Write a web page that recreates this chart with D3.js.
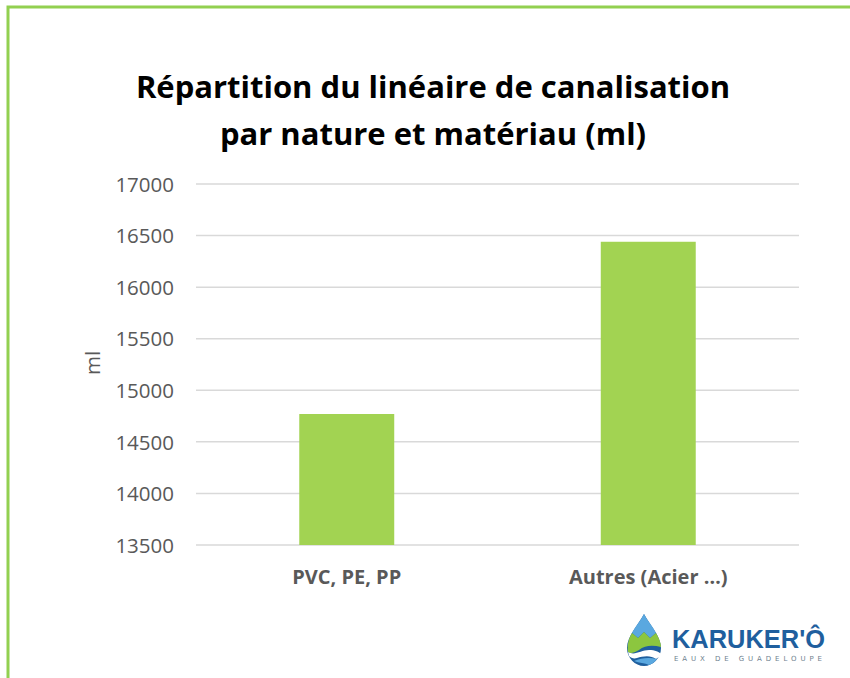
<!DOCTYPE html>
<html>
<head>
<meta charset="utf-8">
<script src="https://cdn.jsdelivr.net/npm/d3@7"></script>
<style>
  html, body { margin: 0; padding: 0; background: #fff; }
  svg { display: block; }
</style>
</head>
<body>
<svg id="chart" width="850" height="678"></svg>
<script>
const categories = ["PVC, PE, PP", "Autres (Acier …)"];
const values = [14770, 16440];
const yTicks = [13500, 14000, 14500, 15000, 15500, 16000, 16500, 17000];
const titleLines = ["Répartition du linéaire de canalisation", "par nature et matériau (ml)"];

const svg = d3.select("#chart");
const width = 850;
const height = 678;

const MARGIN = { top: 184, right: 51, bottom: 133, left: 196 };
const FONT = "'Open Sans', 'Liberation Sans', sans-serif";

// frame (green border running off the right/bottom edges)
svg.append("rect")
  .attr("x", 8).attr("y", 7)
  .attr("width", width + 20).attr("height", height + 20)
  .attr("fill", "none")
  .attr("stroke", "#92d050")
  .attr("stroke-width", 3);

// title
svg.append("g")
  .selectAll("text")
  .data(titleLines)
  .join("text")
  .attr("x", 433)
  .attr("y", (d, i) => 98 + i * 47)
  .attr("text-anchor", "middle")
  .attr("font-family", FONT)
  .attr("font-weight", 700)
  .attr("font-size", 31)
  .attr("fill", "#000")
  .text((d) => d);

const x = d3.scaleBand()
  .domain(categories)
  .range([MARGIN.left, width - MARGIN.right])
  .paddingInner(0.685)
  .paddingOuter(0.3425);

const y = d3.scaleLinear()
  .domain([13500, 17000])
  .range([height - MARGIN.bottom, MARGIN.top]);

// gridlines
svg.append("g")
  .selectAll("line")
  .data(yTicks)
  .join("line")
  .attr("x1", MARGIN.left)
  .attr("x2", width - MARGIN.right)
  .attr("y1", (d) => y(d))
  .attr("y2", (d) => y(d))
  .attr("stroke", "#d9d9d9")
  .attr("stroke-width", 1.5);

// y axis labels
const yAxis = svg.append("g")
  .attr("transform", `translate(${MARGIN.left - 22},0)`)
  .call(d3.axisLeft(y).tickValues(yTicks).tickSize(0).tickPadding(0).tickFormat(d3.format("d")));
yAxis.select(".domain").remove();
yAxis.selectAll("text")
  .attr("font-family", FONT)
  .attr("font-size", 20.5)
  .attr("fill", "#595959")
  .attr("dy", "0.35em");

// bars
svg.append("g")
  .selectAll("rect")
  .data(values)
  .join("rect")
  .attr("x", (d, i) => x(categories[i]))
  .attr("width", x.bandwidth())
  .attr("y", (d) => y(d))
  .attr("height", (d) => y(13500) - y(d))
  .attr("fill", "#a2d352");

// x labels
const xAxis = svg.append("g")
  .attr("transform", `translate(0,${height - MARGIN.bottom})`)
  .call(d3.axisBottom(x).tickSize(0).tickPadding(0));
xAxis.select(".domain").remove();
xAxis.selectAll("text")
  .attr("font-family", FONT)
  .attr("font-weight", 700)
  .attr("font-size", 20)
  .attr("fill", "#595959")
  .attr("dy", null)
  .attr("y", 39);

// axis title
svg.append("text")
  .attr("transform", "translate(100,363) rotate(-90)")
  .attr("text-anchor", "middle")
  .attr("font-family", FONT)
  .attr("font-size", 20.5)
  .attr("fill", "#595959")
  .text("ml");

// logo
const logo = svg.append("g").attr("transform", "translate(627,612)");
logo.append("path")
  .attr("d", "M17,2 C22,12 34,24 34,36 C34,46 26,54 17,54 C8,54 0,46 0,36 C0,24 12,12 17,2 Z")
  .attr("fill", "#1f5f9e");
logo.append("path")
  .attr("d", "M17,2 C20,8 26,15 29,21 L23,26 L17,20 L11,26 L5,21 C8,15 14,8 17,2 Z")
  .attr("fill", "#5aa8e0");
logo.append("path")
  .attr("d", "M5,21 L11,26 L17,20 L23,26 L29,21 C32,26 34,31 34,35 C26,33 18,33 12,38 C7,41 3,42 1,40 C0,32 2,26 5,21 Z")
  .attr("fill", "#8cc63f");
logo.append("path")
  .attr("d", "M1,40 C8,44 14,38 22,38 C28,38 32,40 34,42 C33,44 31,46 29,47 C24,43 16,44 10,46 C7,47 4,46 2,44 Z")
  .attr("fill", "#ffffff");
logo.append("path")
  .attr("d", "M7,49 C14,46 22,45 30,47 C28,50 25,52 22,53 C18,51 12,51 7,49 Z")
  .attr("fill", "#5aa8e0");

logo.append("text")
  .attr("x", 45).attr("y", 36)
  .attr("font-family", "'Liberation Sans', Arial, sans-serif")
  .attr("font-weight", 700)
  .attr("font-size", 26)
  .attr("fill", "#1f5f9e")
  .attr("textLength", 153)
  .attr("lengthAdjust", "spacingAndGlyphs")
  .text("KARUKER'Ô");
logo.append("text")
  .attr("x", 47).attr("y", 49)
  .attr("font-family", "'DejaVu Sans', sans-serif")
  .attr("font-size", 7)
  .attr("fill", "#6f7f8f")
  .attr("textLength", 148)
  .text("EAUX DE GUADELOUPE");
</script>
</body>
</html>
